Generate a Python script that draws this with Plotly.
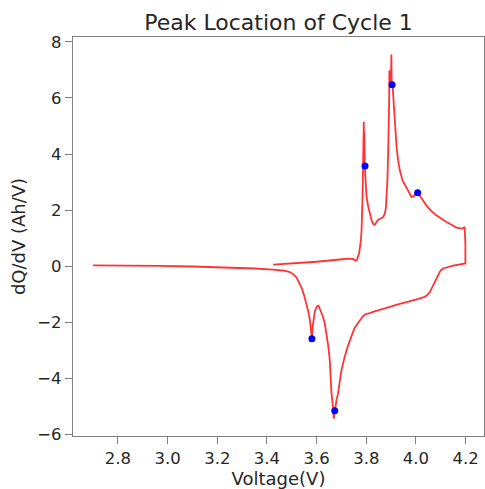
import plotly.graph_objects as go

# dQ/dV curve (charge branch then discharge branch)
voltage = [
    3.425, 3.50, 3.60, 3.693, 3.727, 3.747, 3.756, 3.762, 3.771, 3.778, 3.781, 3.785, 3.787, 3.789,
    3.790, 3.791, 3.792, 3.794, 3.797, 3.801, 3.808, 3.814, 3.821, 3.827, 3.834, 3.840, 3.848, 3.858,
    3.868, 3.875, 3.879, 3.882, 3.885, 3.888, 3.891, 3.892, 3.893, 3.895, 3.896, 3.897, 3.899, 3.900,
    3.901, 3.902, 3.904, 3.906, 3.908, 3.911, 3.915, 3.918, 3.922, 3.928, 3.935, 3.946, 3.955, 3.962,
    3.972, 3.982, 3.991, 3.998, 4.007, 4.015, 4.028, 4.042, 4.060, 4.082, 4.100, 4.123, 4.145, 4.163,
    4.187, 4.196, 4.199, 4.199,
    4.150, 4.109, 4.100, 4.096, 4.086, 4.076, 4.066, 4.056, 4.045, 4.035, 4.010, 3.988, 3.948, 3.920,
    3.895, 3.860, 3.827, 3.810, 3.794, 3.785, 3.774, 3.764, 3.754, 3.744, 3.734, 3.723, 3.713, 3.706,
    3.700, 3.695, 3.691, 3.686, 3.680, 3.676, 3.673, 3.671, 3.669, 3.667, 3.664, 3.660, 3.656, 3.653,
    3.647, 3.640, 3.633, 3.626, 3.616, 3.609, 3.606, 3.600, 3.593, 3.588, 3.584, 3.581, 3.578, 3.573,
    3.566, 3.559, 3.549, 3.539, 3.529, 3.519, 3.505, 3.492, 3.470, 3.452, 3.425, 3.350, 3.237, 3.100,
    2.969, 2.800, 2.700,
]
dqdv = [
    0.06, 0.10, 0.16, 0.24, 0.27, 0.26, 0.20, 0.22, 0.45, 0.90, 1.28, 2.50, 3.66, 4.60,
    5.15, 4.00, 4.80, 3.57, 3.00, 2.47, 2.12, 1.89, 1.65, 1.52, 1.47, 1.56, 1.66, 1.70,
    1.75, 1.88, 2.10, 2.60, 3.06, 4.00, 4.85, 5.80, 6.98, 6.90, 6.50, 7.00, 6.40, 7.30,
    7.55, 6.60, 6.47, 6.50, 6.15, 5.70, 5.00, 4.60, 4.25, 3.78, 3.42, 3.06, 2.90, 2.77,
    2.60, 2.47, 2.49, 2.60, 2.62, 2.53, 2.35, 2.17, 1.98, 1.82, 1.70, 1.58, 1.47, 1.38,
    1.34, 1.40, 0.80, 0.10,
    0.02, -0.08, -0.15, -0.20, -0.38, -0.56, -0.75, -0.92, -1.03, -1.09, -1.16, -1.21, -1.31, -1.38,
    -1.45, -1.53, -1.63, -1.68, -1.72, -1.80, -1.92, -2.05, -2.18, -2.40, -2.64, -2.92, -3.23, -3.45,
    -3.70, -4.00, -4.30, -4.55, -4.77, -5.00, -5.20, -5.15, -5.43, -5.10, -4.90, -4.54, -3.90, -3.35,
    -2.85, -2.40, -2.05, -1.81, -1.55, -1.43, -1.40, -1.45, -1.60, -1.85, -2.16, -2.58, -2.30, -1.92,
    -1.60, -1.33, -1.02, -0.76, -0.55, -0.40, -0.28, -0.21, -0.16, -0.14, -0.12, -0.08, -0.04, -0.01,
    0.01, 0.02, 0.03,
]

# detected peaks
peak_v = [3.581, 3.673, 3.795, 3.904, 4.007]
peak_y = [-2.58, -5.15, 3.57, 6.47, 2.62]

x_ticks = [2.8, 3.0, 3.2, 3.4, 3.6, 3.8, 4.0, 4.2]
y_ticks = [-6, -4, -2, 0, 2, 4, 6, 8]

fig = go.Figure()
fig.add_trace(go.Scatter(x=voltage, y=dqdv, mode="lines",
                         line=dict(color="rgba(255,0,0,0.8)", width=1.8),
                         showlegend=False))
fig.add_trace(go.Scatter(x=peak_v, y=peak_y, mode="markers",
                         marker=dict(color="#0000ff", size=7),
                         showlegend=False))

axis_common = dict(showgrid=False, zeroline=False, showline=True, mirror=True,
                   linecolor="#808080", linewidth=1.3, ticks="outside", ticklen=7,
                   tickcolor="#808080", tickwidth=1.3,
                   tickfont=dict(family="DejaVu Sans", size=16.5, color="#262626"))

fig.update_layout(
    width=485, height=489,
    margin=dict(l=73, r=1, t=37, b=53),
    paper_bgcolor="white", plot_bgcolor="white",
    title=dict(text="Peak Location of Cycle 1", x=0.5, xref="paper", xanchor="center",
               y=1 - 22 / 489, yanchor="middle",
               font=dict(family="DejaVu Sans", size=22, color="#262626")),
    xaxis=dict(range=[2.619, 4.274], tickvals=x_ticks, ticktext=[f"{v:.1f}" for v in x_ticks],
               title=dict(text="Voltage(V)", standoff=4,
                          font=dict(family="DejaVu Sans", size=18, color="#262626")),
               **axis_common),
    yaxis=dict(range=[-6.05, 8.17], tickvals=y_ticks, ticktext=[("−" + str(-v)) if v < 0 else str(v) for v in y_ticks],
               title=dict(text="dQ/dV (Ah/V)", standoff=6,
                          font=dict(family="DejaVu Sans", size=18, color="#262626")),
               **axis_common),
)

fig.write_html("out.html")
